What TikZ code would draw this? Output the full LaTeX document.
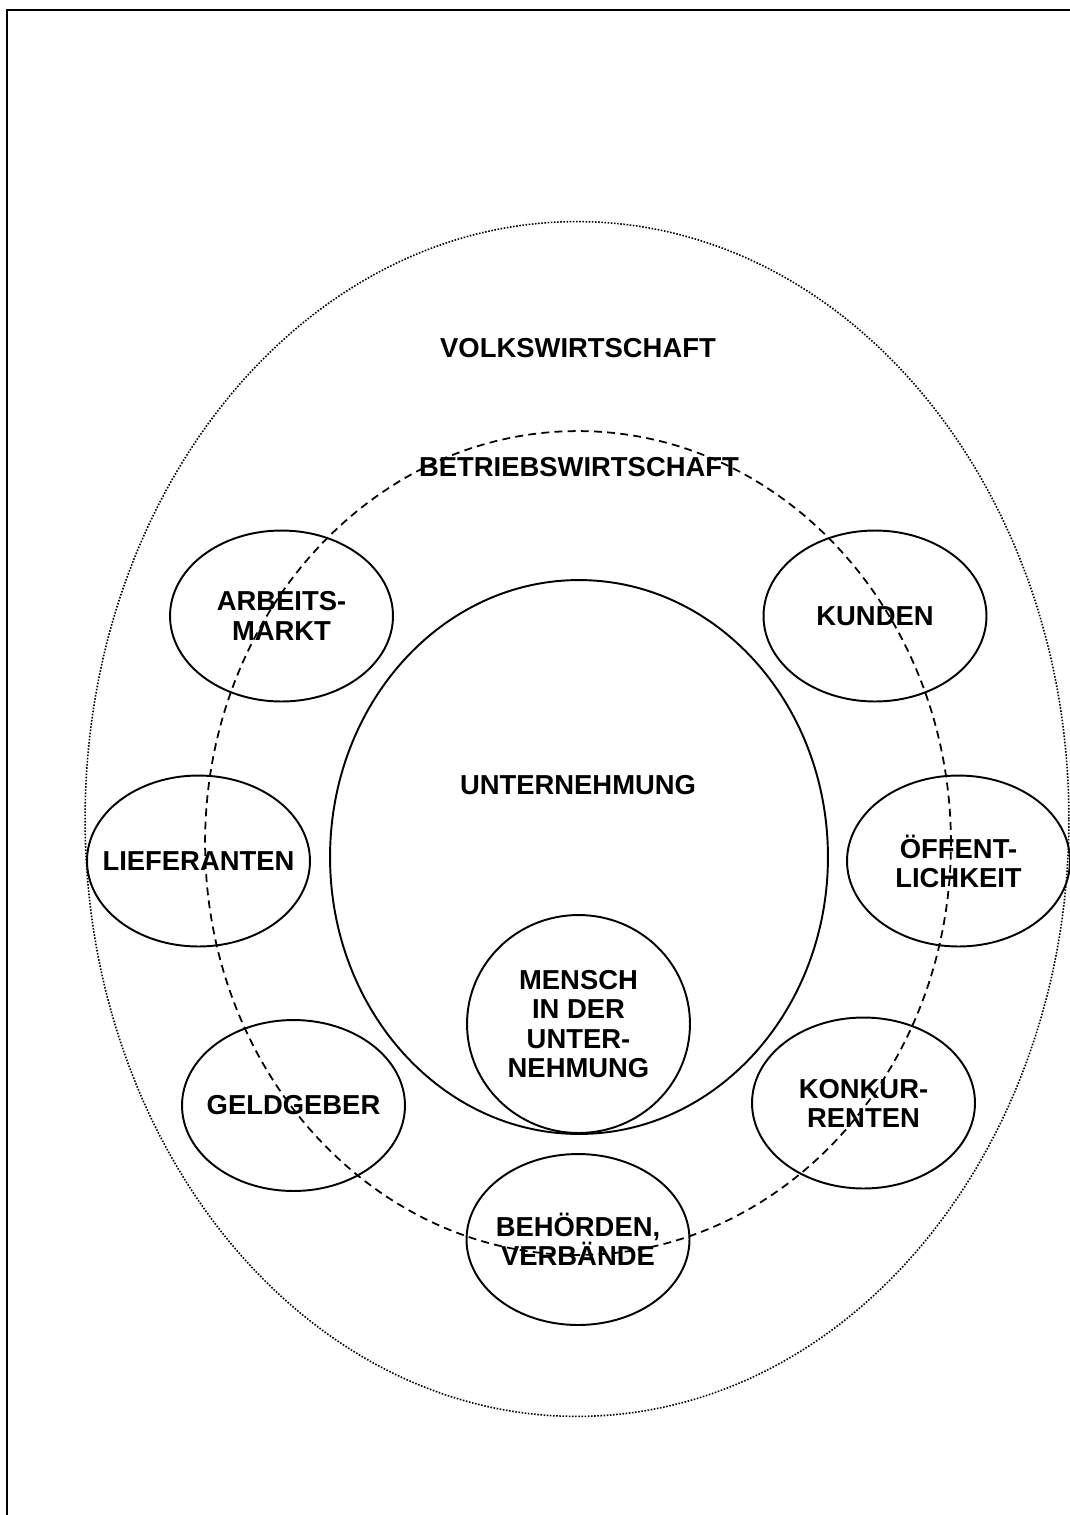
\documentclass[tikz,border=0pt]{standalone}
\usepackage{fontspec}
\setmainfont{Liberation Sans}
\usetikzlibrary{shapes.geometric}
\newcommand{\lblfont}{\fontsize{15.6}{16.6}\selectfont\bfseries}
\begin{document}
\begin{tikzpicture}[x=0.02cm, y=-0.02cm,
  every node/.style={font=\lblfont, align=center, inner sep=0pt},
  bubble/.style={draw, ellipse, line width=1.1pt, minimum width=4.46cm, minimum height=3.42cm},
  ring/.style={draw, ellipse, line width=1pt}]
\useasboundingbox (0,0) rectangle (1070,1515);
% frame
\draw[line width=1.5pt] (1075,10) -- (7,10) -- (7,1520);
% the three rings
\node[ring, line width=0.9pt, dash pattern=on 0.9pt off 0.9pt, minimum width=19.68cm, minimum height=23.9cm] (vwl) at (577,819) {};
\node[ring, dash pattern=on 4.5pt off 3pt, minimum width=14.92cm, minimum height=16.48cm] (bwl) at (578,843) {};
\node[ring, line width=1.1pt, minimum width=9.96cm, minimum height=11.08cm] (untern) at (579,857) {};
\node[ring, line width=1.1pt, minimum width=4.46cm, minimum height=4.36cm] (mensch) at (578.5,1024) {};
\node (vwl-t) at (578,348) {VOLKSWIRTSCHAFT};
\node (bwl-t) at (579,467) {BETRIEBSWIRTSCHAFT};
\node (untern-t) at (578,785) {UNTERNEHMUNG};
\node (mensch-t) at (mensch) {MENSCH\\IN DER\\UNTER-\\NEHMUNG};
% surrounding groups
\node[bubble] (arbeit) at (281.5,616) {};
\node[bubble] (kunden) at (875,616) {};
\node[bubble] (liefer) at (198.5,861) {};
\node[bubble] (oeffent) at (958.5,861) {};
\node[bubble] (geld) at (293.5,1105.5) {};
\node[bubble] (konkur) at (863.5,1103) {};
\node[bubble] (behoerd) at (578,1239.5) {};
\node (arbeit-t) at (arbeit) {ARBEITS-\\MARKT};
\node (kunden-t) at (kunden) {KUNDEN};
\node (liefer-t) at (liefer) {LIEFERANTEN};
\node (oeffent-t) at (oeffent) {ÖFFENT-\\LICHKEIT};
\node (geld-t) at (geld) {GELDGEBER};
\node (konkur-t) at (konkur) {KONKUR-\\RENTEN};
\node (behoerd-t) at (behoerd) {BEHÖRDEN,\\VERBÄNDE};
\end{tikzpicture}
\end{document}
